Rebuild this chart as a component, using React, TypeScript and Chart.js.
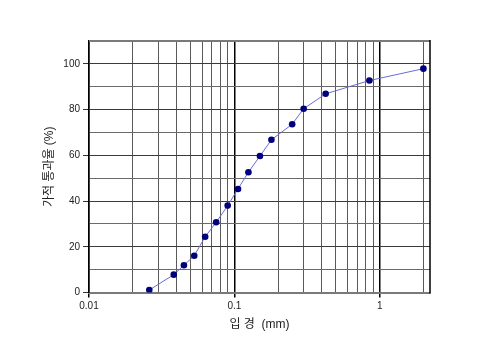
import React, { useEffect, useRef } from 'react';
import { Chart, registerables } from 'chart.js';

Chart.register(...registerables);

// Particle size (mm) and percent passing (%)
const particleSizes = [0.026, 0.0383, 0.045, 0.053, 0.063, 0.075, 0.09, 0.106, 0.125, 0.15, 0.18, 0.25, 0.3, 0.425, 0.85, 2.0];
const percentPassing = [1.1, 7.8, 11.9, 16.1, 24.4, 30.7, 38.0, 45.3, 52.6, 59.7, 66.8, 73.6, 80.4, 86.9, 92.7, 97.9];

// Axis ticks
const xGridValues = [
  0.01, 0.02, 0.03, 0.04, 0.05, 0.06, 0.07, 0.08, 0.09,
  0.1, 0.2, 0.3, 0.4, 0.5, 0.6, 0.7, 0.8, 0.9,
  1, 2,
];
const xLabelValues = [0.01, 0.1, 1];
const xLabelTexts = ['0.01', '0.1', '1'];
const yLabelValues = [0, 20, 40, 60, 80, 100];

const xMin = 0.01;
const xMax = 2.22;
const yMin = 0;
const yMax = 110;

const xTitle = '입 경  (mm)';
const yTitle = '가적 통과율 (%)';

const FONT = "'Liberation Sans', Arial, 'Noto Sans CJK KR', sans-serif";
const TITLE_FONT = "'Liberation Sans', Arial, 'Noto Sans CJK KR', sans-serif";

const isDecade = (v: number) => xLabelValues.some((d) => Math.abs(d - v) < 1e-9);

export default function App() {
  const ref = useRef<HTMLCanvasElement | null>(null);

  useEffect(() => {
    if (!ref.current) return;

    const frame = {
      id: 'frame',
      beforeDatasetsDraw(chart: any) {
        const { ctx, chartArea: a } = chart;
        ctx.save();
        ctx.strokeStyle = '#7a7a7a';
        ctx.lineWidth = 2;
        ctx.beginPath();
        ctx.moveTo(a.left, a.top);
        ctx.lineTo(a.right, a.top);
        ctx.stroke();
        ctx.strokeStyle = '#000';
        ctx.lineWidth = 1.5;
        ctx.beginPath();
        ctx.moveTo(a.right, a.top - 1);
        ctx.lineTo(a.right, a.bottom + 1);
        ctx.stroke();
        ctx.restore();
      },
    };

    const chart = new Chart(ref.current, {
      type: 'scatter',
      data: {
        datasets: [
          {
            data: particleSizes.map((x, i) => ({ x, y: percentPassing[i] })),
            showLine: true,
            borderColor: '#6b6bd0',
            borderWidth: 1,
            backgroundColor: '#00007f',
            pointBackgroundColor: '#00007f',
            pointBorderColor: '#00007f',
            pointRadius: 3.3,
            pointBorderWidth: 0,
            tension: 0,
          },
        ],
      },
      options: {
        animation: false,
        responsive: false,
        devicePixelRatio: 1,
        layout: { padding: { top: 41, right: 70, left: 0, bottom: 0 } },
        plugins: {
          legend: { display: false },
          tooltip: { enabled: false },
        },
        scales: {
          x: {
            type: 'logarithmic',
            min: xMin,
            max: xMax,
            afterBuildTicks: (scale: any) => {
              scale.ticks = xGridValues.map((v) => ({ value: v }));
            },
            afterFit: (scale: any) => {
              scale.height = 58.5;
            },
            ticks: {
              autoSkip: false,
              maxRotation: 0,
              padding: 3,
              color: '#222',
              font: { family: FONT, size: 10 },
              callback: (v: any) => {
                const idx = xLabelValues.findIndex((d) => Math.abs(d - Number(v)) < 1e-9);
                return idx >= 0 ? xLabelTexts[idx] : '';
              },
            },
            grid: {
              color: (c: any) => (c.tick && isDecade(c.tick.value) ? '#000' : '#5a5a5a'),
              lineWidth: (c: any) => (c.tick && isDecade(c.tick.value) ? 1.5 : 1),
              tickColor: (c: any) => (c.tick && isDecade(c.tick.value) ? '#000' : 'rgba(0,0,0,0)'),
              tickLength: 5,
            },
            border: { display: true, color: '#7a7a7a', width: 2 },
            title: {
              display: true,
              text: xTitle,
              color: '#222',
              font: { family: TITLE_FONT, size: 12 },
              padding: { top: 0, bottom: 18.8 },
            },
          },
          y: {
            type: 'linear',
            min: yMin,
            max: yMax,
            afterFit: (scale: any) => {
              scale.width = 89;
            },
            ticks: {
              stepSize: 10,
              padding: 3,
              color: '#222',
              font: { family: FONT, size: 10 },
              callback: (v: any) => (yLabelValues.includes(Number(v)) ? String(v) : ''),
            },
            grid: {
              color: (c: any) =>
                c.tick && yLabelValues.includes(c.tick.value) ? '#3a3a3a' : '#6a6a6a',
              lineWidth: 1,
              tickColor: (c: any) =>
                c.tick && yLabelValues.includes(c.tick.value) ? '#333' : 'rgba(0,0,0,0)',
              tickLength: 6,
            },
            border: { display: true, color: '#000', width: 1.5 },
            title: {
              display: true,
              text: yTitle,
              color: '#222',
              font: { family: TITLE_FONT, size: 12 },
              padding: { top: 42, bottom: 0 },
            },
          },
        },
      },
      plugins: [frame],
    } as any);

    return () => chart.destroy();
  }, []);

  return (
    <div style={{ position: 'fixed', left: 0, top: 0, width: 500, height: 351, background: '#fff' }}>
      <canvas ref={ref} width={500} height={351} style={{ display: 'block' }} />
    </div>
  );
}
